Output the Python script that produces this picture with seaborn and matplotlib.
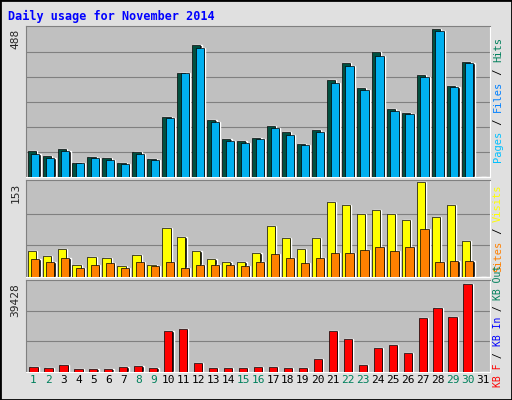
import matplotlib
matplotlib.use("Agg")
import matplotlib.pyplot as plt
import seaborn as sns
import numpy as np

sns.set_style("white")
plt.rcParams['font.family'] = ['DejaVu Sans Mono', 'DejaVu Sans']

days = list(range(1, 32))
hits = [86, 69, 92, 46, 66, 63, 46, 82, 59, 198, 343, 432, 188, 125, 119, 129, 168, 148, 109, 155,
        317, 373, 293, 409, 224, 211, 336, 485, 300, 379, 0]
files = [76, 63, 86, 46, 63, 56, 43, 76, 56, 195, 340, 425, 181, 119, 112, 125, 162, 139, 106, 148,
         310, 366, 287, 399, 218, 208, 330, 478, 297, 373, 0]
visits = [42, 34, 46, 19, 32, 31, 17, 36, 20, 80, 65, 42, 29, 24, 24, 39, 83, 63, 46, 63,
          121, 116, 102, 109, 102, 92, 153, 97, 117, 58, 0]
sites = [29, 24, 31, 15, 19, 22, 14, 24, 17, 24, 15, 20, 19, 19, 17, 24, 37, 31, 22, 31,
         39, 39, 44, 48, 42, 48, 78, 24, 26, 26, 0]
kbytes = [2200, 1800, 3200, 1500, 1500, 1400, 2200, 2600, 1800, 18100, 19000, 4000, 2000, 1700, 1700,
          2300, 2400, 1800, 1800, 5900, 18100, 14500, 3200, 10900, 12200, 8600, 24000, 28500, 24500, 39428, 0]
weekend = [1, 2, 8, 9, 15, 16, 22, 23, 29, 30]

W, H = 512, 400
fig = plt.figure(figsize=(W/100, H/100), dpi=100)
fig.patch.set_facecolor('#e0e0e0')
fig.add_artist(plt.Rectangle((0, 0), 1, 1, transform=fig.transFigure, fill=False, ec='black', lw=2))

def mkax(top, bot):
    ax = fig.add_axes([26/W, 1-bot/H, 464/W, (bot-top)/H])
    ax.set_facecolor('#c0c0c0')
    ax.set_xlim(0.5, 31.5)
    ax.set_xticks([])
    ax.set_yticks([])
    for s in ['top', 'left']:
        ax.spines[s].set_color('#808080')
    for s in ['bottom', 'right']:
        ax.spines[s].set_color('white')
    return ax

d = np.array(days)

def bars(ax, vals, color, off, width=0.55):
    ax.bar(d + off + 0.08, vals, width=width, color='black', zorder=2)
    ax.bar(d + off, vals, width=width, color=color, edgecolor='black', lw=0.5, zorder=3)

ax1 = mkax(26, 177)
ax1.set_ylim(0, 496)
for g in [82, 164, 246, 328, 410]:
    ax1.axhline(g, color='#808080', lw=0.8, zorder=1)
bars(ax1, hits, '#005040', -0.12)
bars(ax1, files, '#00b0f0', 0.12)
ax1.text(-0.012, 488, '488', transform=ax1.get_yaxis_transform(), rotation=90, ha='right', va='top', fontsize=8)

ax2 = mkax(180, 277)
ax2.set_ylim(0, 157)
for g in [51, 102]:
    ax2.axhline(g, color='#808080', lw=0.8, zorder=1)
bars(ax2, visits, '#ffff00', -0.12)
bars(ax2, sites, '#ff8000', 0.12)
ax2.text(-0.012, 153, '153', transform=ax2.get_yaxis_transform(), rotation=90, ha='right', va='top', fontsize=8)

ax3 = mkax(280, 372)
ax3.set_ylim(0, 41000)
for g in [13600, 27200]:
    ax3.axhline(g, color='#808080', lw=0.8, zorder=1)
bars(ax3, kbytes, '#ff0000', 0.0)
ax3.text(-0.012, 39428, '39428', transform=ax3.get_yaxis_transform(), rotation=90, ha='right', va='top', fontsize=8)

for dd in days:
    ax3.text(dd, -0.03, str(dd), transform=ax3.get_xaxis_transform(), ha='center', va='top',
             fontsize=8, color='#00805c' if dd in weekend else 'black')

fig.text(8/W, 1-16/H, 'Daily usage for November 2014', color='#0000ff', fontsize=8.5, fontweight='bold', va='center')

def rlabel(ypix, parts, fs=7.5):
    y = 1 - ypix/H
    n = sum(len(p[0]) for p in parts)
    step = 0.6*fs*100/72/H
    pos = y - n*step/2
    for txt, col in parts:
        fig.text(498/W, pos, txt, color=col, rotation=90, ha='center', va='bottom', fontsize=fs)
        pos += len(txt)*step

rlabel(100, [('Pages', '#00c0ff'), (' / ', 'black'), ('Files', '#0080ff'), (' / ', 'black'), ('Hits', '#00805c')])
rlabel(228, [('Sites', '#ff8000'), (' / ', 'black'), ('Visits', '#ffff00')])
rlabel(326, [('KB F', '#ff0000'), (' / ', 'black'), ('KB In', '#0000ff'), (' / ', 'black'), ('KB Out', '#00805c')], fs=7)

fig.savefig('out.png', dpi=100, facecolor=fig.get_facecolor())
